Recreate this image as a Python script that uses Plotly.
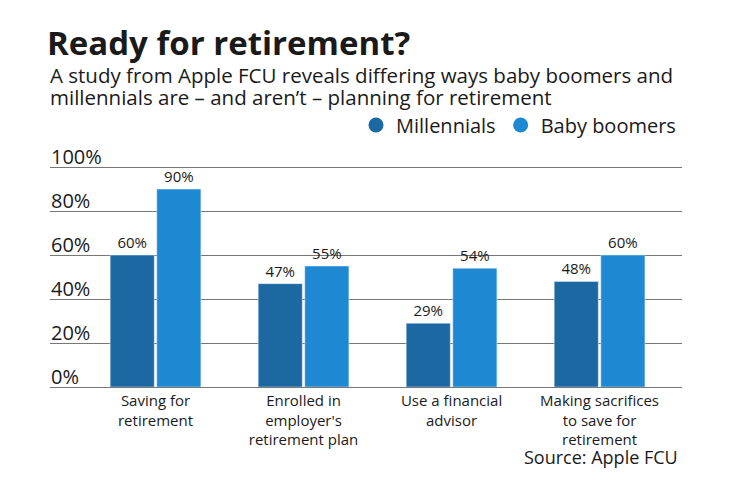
import plotly.graph_objects as go

categories = ["Saving for<br>retirement", "Enrolled in<br>employer's<br>retirement plan",
              "Use a financial<br>advisor", "Making sacrifices<br>to save for<br>retirement"]
millennials = [60, 47, 29, 48]
boomers = [90, 55, 54, 60]
tick_vals = [0, 20, 40, 60, 80, 100]
tick_text = ["0%", "20%", "40%", "60%", "80%", "100%"]
subtitle_lines = ["A study from Apple FCU reveals differing ways baby boomers and",
                  "millennials are – and aren’t – planning for retirement"]

DARK = "#1b68a3"
LIGHT = "#1e88d3"
TXT = "#1a1a1a"
FONT = "Open Sans"

W, H = 740, 482
L, R, T, B = 50, 58, 166, 95
PW, PH = W - L - R, H - T - B

x = list(range(len(categories)))

fig = go.Figure()
fig.add_bar(x=x, y=millennials, marker_color=DARK, name="Millennials", showlegend=False,
            texttemplate="%{y}%", textposition="outside",
            textfont=dict(size=15, color=TXT, family=FONT), cliponaxis=False)
fig.add_bar(x=x, y=boomers, marker_color=LIGHT, name="Baby boomers", showlegend=False,
            texttemplate="%{y}%", textposition="outside",
            textfont=dict(size=15, color=TXT, family=FONT), cliponaxis=False)
# legend entries with circle markers
fig.add_scatter(x=[None], y=[None], mode="markers", name="Millennials",
                marker=dict(color=DARK, size=15, symbol="circle"))
fig.add_scatter(x=[None], y=[None], mode="markers", name="Baby boomers",
                marker=dict(color=LIGHT, size=15, symbol="circle"))

# y tick labels drawn above gridlines
for v, t in zip(tick_vals, tick_text):
    fig.add_annotation(x=0, xref="paper", y=v, yref="y", text=t, showarrow=False,
                       xanchor="left", yanchor="middle", yshift=11, xshift=-1,
                       font=dict(size=20, color=TXT, family=FONT))

fig.update_layout(
    width=W, height=H,
    margin=dict(l=L, r=R, t=T, b=B, autoexpand=False),
    paper_bgcolor="white", plot_bgcolor="white",
    barmode="group", bargap=0.37, bargroupgap=0.054,
    title=dict(text="<b>Ready for retirement?</b>", x=47/W, xref="container", xanchor="left",
               y=1-43/H, yref="container", yanchor="middle",
               font=dict(size=33, color=TXT, family=FONT)),
    legend=dict(orientation="h", x=356/W, xref="container", xanchor="left",
                y=1-125/H, yref="container", yanchor="middle",
                font=dict(size=20, color=TXT, family=FONT),
                bgcolor="rgba(0,0,0,0)"),
    xaxis=dict(tickvals=x, ticktext=categories, range=[-0.713, 3.557], automargin=False,
               showgrid=False, showline=True, linecolor="#777", linewidth=1,
               ticks="", tickfont=dict(size=15, color=TXT, family=FONT), zeroline=False),
    yaxis=dict(range=[0, 100.5], tickvals=tick_vals, showticklabels=False, automargin=False,
               showgrid=True, gridcolor="#777", gridwidth=1, zeroline=False),
)

# subtitle, one annotation per line
for i, line in enumerate(subtitle_lines):
    yc = 75 + 22 * i
    fig.add_annotation(
        text=line, xref="paper", yref="paper", x=-2/PW, y=1 + (T - yc) / PH,
        xanchor="left", yanchor="middle", align="left", showarrow=False,
        font=dict(size=20.5, color=TXT, family=FONT))

# source
fig.add_annotation(text="Source: Apple FCU", xref="paper", yref="paper",
                   x=(680 - L) / PW, y=-(457 - (H - B)) / PH, xanchor="right", yanchor="middle",
                   showarrow=False, font=dict(size=18, color=TXT, family=FONT))

fig.write_html("out.html", config={"displayModeBar": False},
               post_script="document.body.style.margin='0';document.body.style.padding='0';")
